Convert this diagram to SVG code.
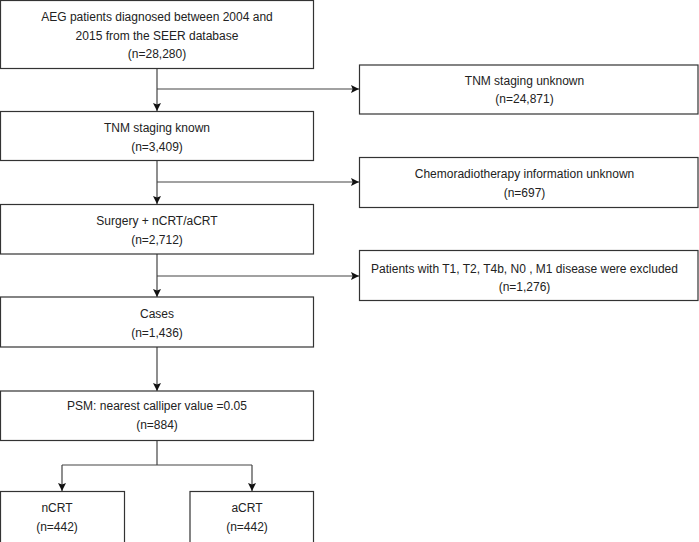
<svg xmlns="http://www.w3.org/2000/svg" width="699" height="542" viewBox="0 0 699 542">
<style>
.box{fill:#fff;stroke:#333;stroke-width:1.2}
.t{font-family:"Liberation Sans",Arial,sans-serif;font-size:12px;fill:#222;text-anchor:middle}
.ln{fill:none;stroke:#444;stroke-width:1.2}
</style>
<defs>
<marker id="ah" viewBox="0 0 10 10" refX="10" refY="5" markerWidth="8" markerHeight="8" markerUnits="userSpaceOnUse" orient="auto">
<path d="M0,0 L10,5 L0,10 L2,5 Z" fill="#111"/>
</marker>
</defs>
<rect width="699" height="542" fill="#fff"/>
<g id="connectors">
<path class="ln" d="M157,68 V111" marker-end="url(#ah)"/>
<path class="ln" d="M157,89 H359" marker-end="url(#ah)"/>
<path class="ln" d="M157,160 V204" marker-end="url(#ah)"/>
<path class="ln" d="M157,182 H359" marker-end="url(#ah)"/>
<path class="ln" d="M157,254 V297" marker-end="url(#ah)"/>
<path class="ln" d="M157,276 H359" marker-end="url(#ah)"/>
<path class="ln" d="M157,347 V391" marker-end="url(#ah)"/>
<path class="ln" d="M157,440 V465"/>
<path class="ln" d="M62,465 H252"/>
<path class="ln" d="M62,465 V491" marker-end="url(#ah)"/>
<path class="ln" d="M252,465 V491" marker-end="url(#ah)"/>
</g>
<g id="n1">
<rect class="box" x="0.5" y="0.5" width="313" height="68"/>
<text class="t" x="157" y="21">AEG patients diagnosed between 2004 and</text>
<text class="t" x="157" y="39.5">2015 from the SEER database</text>
<text class="t" x="157" y="58">(n=28,280)</text>
</g>
<g id="n2">
<rect class="box" x="0.5" y="111.5" width="313" height="49"/>
<text class="t" x="157" y="132">TNM staging known</text>
<text class="t" x="157" y="150.5">(n=3,409)</text>
</g>
<g id="n3">
<rect class="box" x="0.5" y="204.5" width="313" height="49.5"/>
<text class="t" x="157" y="225">Surgery + nCRT/aCRT</text>
<text class="t" x="157" y="243.5">(n=2,712)</text>
</g>
<g id="n4">
<rect class="box" x="0.5" y="297" width="313" height="50"/>
<text class="t" x="157" y="318">Cases</text>
<text class="t" x="157" y="336.5">(n=1,436)</text>
</g>
<g id="n5">
<rect class="box" x="0.5" y="391" width="313" height="49.5"/>
<text class="t" x="157" y="410">PSM: nearest calliper value =0.05</text>
<text class="t" x="157" y="429">(n=884)</text>
</g>
<g id="n6">
<rect class="box" x="0.5" y="491.5" width="124" height="52"/>
<text class="t" x="57" y="512">nCRT</text>
<text class="t" x="57" y="530.5">(n=442)</text>
</g>
<g id="n7">
<rect class="box" x="190" y="491.5" width="123.5" height="52"/>
<text class="t" x="247" y="512">aCRT</text>
<text class="t" x="247" y="530.5">(n=442)</text>
</g>
<g id="r1">
<rect class="box" x="359.5" y="65" width="338.5" height="49"/>
<text class="t" x="524.5" y="84.5">TNM staging unknown</text>
<text class="t" x="524.5" y="103">(n=24,871)</text>
</g>
<g id="r2">
<rect class="box" x="359.5" y="157.5" width="338.5" height="50"/>
<text class="t" x="524.5" y="177.5">Chemoradiotherapy information unknown</text>
<text class="t" x="524.5" y="196.5">(n=697)</text>
</g>
<g id="r3">
<rect class="box" x="359.5" y="250.5" width="338.5" height="50"/>
<text class="t" x="524.5" y="272.5">Patients with T1, T2, T4b, N0 , M1 disease were excluded</text>
<text class="t" x="524.5" y="290.5">(n=1,276)</text>
</g>
</svg>
